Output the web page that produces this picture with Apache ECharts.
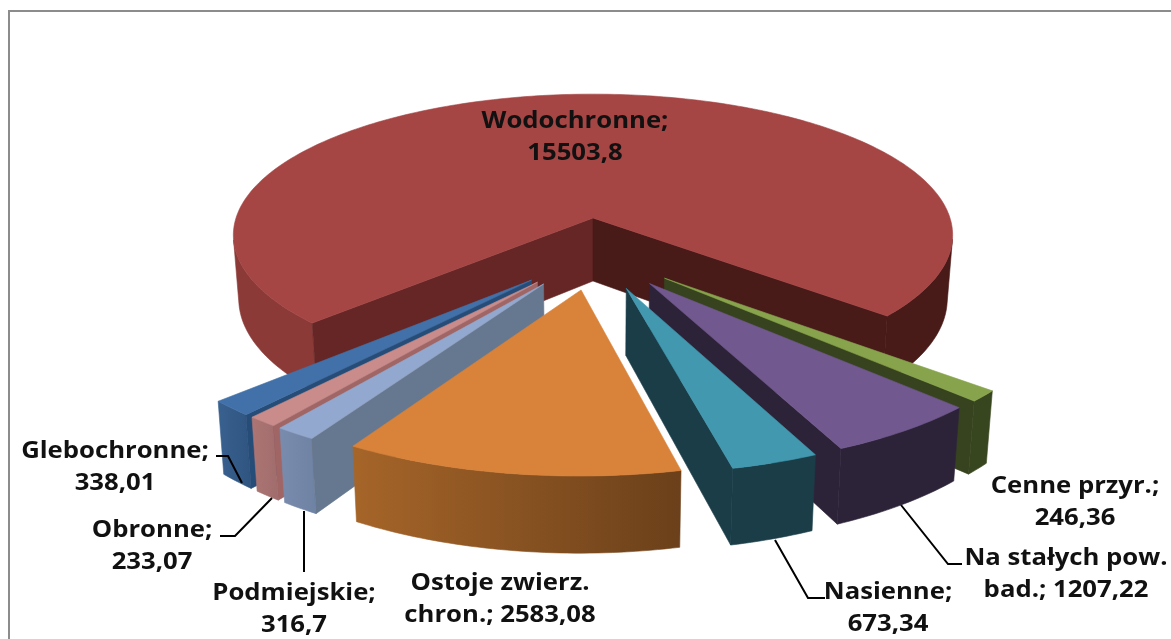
<!DOCTYPE html>
<html>
<head>
<meta charset="utf-8">
<script src="https://cdn.jsdelivr.net/npm/echarts@6/dist/echarts.min.js"></script>
<style>
html, body { margin: 0; padding: 0; background: #fff; }
#main { width: 1171px; height: 639px; }
</style>
</head>
<body>
<div id="main"></div>
<script>
// data, clockwise from the big slice
var categories = ['Wodochronne', 'Cenne przyr.', 'Na stałych pow.\nbad.', 'Nasienne', 'Ostoje zwierz.\nchron.', 'Podmiejskie', 'Obronne', 'Glebochronne'];
var values = [15503.8, 246.36, 1207.22, 673.34, 2583.08, 316.7, 233.07, 338.01];

// top, cut face, outer wall from, outer wall to
var topColors = ['#a54544', '#87a44c', '#71588f', '#4198af', '#d98239', '#92a8ce', '#c98c8a', '#4171a8'];
var cutColors = ['#652625', '#37431f', '#2d2339', '#1a3d48', '#6b401a', '#66788f', '#a06565', '#264d78'];
var wallFrom = ['#8c3a38', '#38461f', '#2d2339', '#1a3d48', '#a66529', '#7a8cad', '#ad7574', '#39618f'];
var wallTo = ['#481a18', '#38461f', '#2d2339', '#1a3d48', '#6b401a', '#6e82a4', '#a06d6c', '#2f5480'];

// label centre and leader line for each slice
var labelAt = [[575, 137], [1075, 502], [1066, 574], [888, 608], [500, 599], [294, 609], [152, 546], [115, 467]];
var leaders = [null, null, [[901, 505], [948, 564], [962, 564]], [[775, 540], [808, 598], [825, 598]], null,
    [[304, 511], [304, 572]], [[272, 498], [235, 536], [220, 536]], [[242, 483], [228, 456], [216, 456]]];

// view of the pie: perspective on a tilted plane
var cx = 593, topY = 218;       // where the big slice's tip lands
var R = 357, Ry = 338, sliceGrow = 1.03, explodeX = 89, explodeY = 83, depth = 63;
var H = 1150, D = 2800, narrow = 0.015;
var startAngle = 226.1;

var total = values.reduce(function (a, b) { return a + b; }, 0);
var rad = Math.PI / 180;

var slices = [];
var acc = startAngle;
values.forEach(function (v, i) {
    var span = v / total * 360;
    slices.push({ from: acc, to: acc + span, mid: (acc + span / 2) % 360 });
    acc += span;
});
var midBig = slices[0].mid;

function project(X, Y, low) {
    // Y grows to the back of the pie, big slice tip is the origin
    var s = 1 / (1 + Y / D);
    var x = cx + X * s * (low ? 1 - narrow : 1);
    var y = topY + H * (s - 1) + (low ? depth * s : 0);
    return [x, y];
}

function facePoly(top, bottom) {
    return top.concat(bottom.slice().reverse());
}

function poly(points, fill, z2) {
    return {
        type: 'polygon',
        z2: z2,
        shape: { points: points },
        style: { fill: fill, stroke: fill, lineWidth: 0.6 }
    };
}

function isFront(a, b, lowA) {
    var ex = b[0] - a[0], ey = b[1] - a[1];
    var dx = lowA[0] - a[0], dy = lowA[1] - a[1];
    return ex * dy - ey * dx < 0;
}

function renderSlice(params, api) {
    var i = params.dataIndex;
    var sl = slices[i];
    // tip moves along its bisector, all relative to the big slice's tip
    var ox = explodeX * (Math.sin(sl.mid * rad) - Math.sin(midBig * rad));
    var oy = explodeY * (Math.cos(sl.mid * rad) - Math.cos(midBig * rad));
    var base = paintOrder.indexOf(i) * 10;
    var grow = i === 0 ? 1 : sliceGrow;
    var tipT = project(ox, oy, false), tipB = project(ox, oy, true);
    var arcT = [], arcB = [];
    var steps = Math.max(2, Math.ceil(sl.to - sl.from));
    for (var k = 0; k <= steps; k++) {
        var a = (sl.from + (sl.to - sl.from) * k / steps) * rad;
        var X = ox + R * grow * Math.sin(a), Y = oy + Ry * grow * Math.cos(a);
        arcT.push(project(X, Y, false));
        arcB.push(project(X, Y, true));
    }
    var children = [];
    // outer wall, only the runs that face the viewer
    var runT = [], runB = [];
    function flush() {
        if (runT.length > 1) {
            var pts = facePoly(runT, runB);
            var fill = new echarts.graphic.LinearGradient(0, 0, 1, 0, [
                { offset: 0, color: wallFrom[i] }, { offset: 1, color: wallTo[i] }
            ]);
            // big slice: left run light, right run dark
            if (i === 0) {
                fill = runT[0][0] < cx ? wallFrom[0] : wallTo[0];
            }
            children.push(poly(pts, fill, base));
        }
        runT = []; runB = [];
    }
    for (k = 0; k < steps; k++) {
        if (isFront(arcT[k], arcT[k + 1], arcB[k])) {
            if (!runT.length) { runT.push(arcT[k]); runB.push(arcB[k]); }
            runT.push(arcT[k + 1]); runB.push(arcB[k + 1]);
        } else {
            flush();
        }
    }
    flush();
    // the two cut faces
    if (isFront(tipT, arcT[0], tipB)) {
        children.push(poly([tipT, arcT[0], arcB[0], tipB], cutColors[i], base + 1));
    }
    if (isFront(arcT[steps], tipT, arcB[steps])) {
        children.push(poly([arcT[steps], tipT, tipB, arcB[steps]], i === 0 ? '#481a18' : cutColors[i], base + 1));
    }
    children.push(poly([tipT].concat(arcT), topColors[i], base + 2));

    // label and leader
    var val = String(values[i]).replace('.', ',');
    var name = categories[i];
    var txt = name.indexOf('\n') >= 0 ? name + '; ' + val : name + ';\n' + val;
    children.push({
        type: 'text',
        z2: 200,
        x: labelAt[i][0],
        y: labelAt[i][1],
        scaleX: 1.07,
        style: {
            x: 0, y: 0, text: txt,
            align: 'center', verticalAlign: 'middle', lineHeight: 32,
            font: '700 24px "Open Sans"', fill: '#111'
        }
    });
    if (leaders[i]) {
        children.push({
            type: 'polyline',
            z2: 190,
            shape: { points: leaders[i] },
            style: { stroke: '#000', lineWidth: 2, fill: null }
        });
    }
    return { type: 'group', children: children };
}

// painter's order: big slice first, then the ones nearest the front last
var paintOrder = values.map(function (v, i) { return i; }).slice(1).sort(function (a, b) {
    return Math.abs(slices[b].mid - 180) - Math.abs(slices[a].mid - 180);
});
paintOrder.unshift(0);

var myChart = echarts.init(document.getElementById('main'));
myChart.setOption({
    animation: false,
    backgroundColor: '#fff',
    graphic: [{
        type: 'polyline',
        silent: true,
        shape: { points: [[9, 639], [9, 11], [1171, 11]] },
        style: { stroke: '#8c8c8c', lineWidth: 2, fill: null }
    }],
    series: [{
        type: 'custom',
        coordinateSystem: 'none',
        renderItem: renderSlice,
        data: values,
        silent: true
    }]
});
</script>
</body>
</html>
